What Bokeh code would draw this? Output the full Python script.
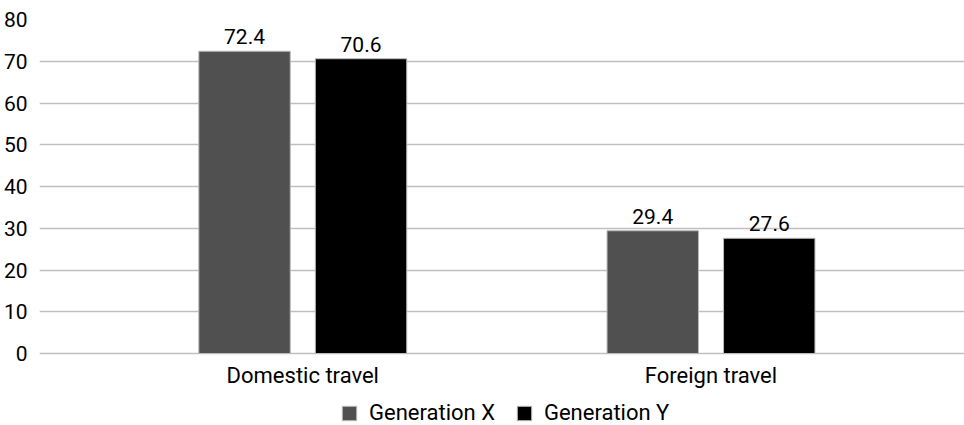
from bokeh.plotting import figure
from bokeh.models import ColumnDataSource, Legend, LegendItem, FixedTicker, Range1d, LabelSet
from bokeh.core.properties import value
from bokeh.embed import file_html
from bokeh.resources import INLINE

categories = ["Domestic travel", "Foreign travel"]
series_names = ["Generation X", "Generation Y"]
gen_x = [72.4, 29.4]
gen_y = [70.6, 27.6]
y_ticks = [0, 10, 20, 30, 40, 50, 60, 70, 80]

colors = ["#505050", "#000000"]
FONT = "Roboto"

p = figure(width=964, height=425, output_backend="svg", toolbar_location=None,
           x_range=Range1d(-0.645, 1.621), y_range=Range1d(-17.245, 80),
           min_border_left=35, min_border_right=0, min_border_top=19, min_border_bottom=0)
p.outline_line_color = None

idx = list(range(len(categories)))
offset = 0.1427
bw = 0.224
renderers = []
for vals, name, col, off in [(gen_x, series_names[0], colors[0], -offset), (gen_y, series_names[1], colors[1], offset)]:
    src = ColumnDataSource(dict(x=[i + off for i in idx], top=vals, lab=[f"{v:.1f}" for v in vals]))
    r = p.vbar(x="x", top="top", width=bw, source=src, fill_color=col, line_color="#bbbbbb", line_width=1)
    renderers.append((name, r))
    p.add_layout(LabelSet(x="x", y="top", text="lab", source=src, text_align="center",
                          text_baseline="bottom", y_offset=7, text_font=value(FONT),
                          text_font_size=value("21px"), text_color="#000000"))

# category labels under the zero line
cat_src = ColumnDataSource(dict(x=idx, y=[0] * len(idx), text=categories))
p.add_layout(LabelSet(x="x", y="y", text="text", source=cat_src, text_align="center",
                      text_baseline="top", y_offset=-9, text_font=value(FONT),
                      text_font_size=value("22px"), text_color="#000000"))

p.yaxis.ticker = FixedTicker(ticks=y_ticks)
p.yaxis.axis_line_color = None
p.yaxis.major_tick_line_color = None
p.yaxis.minor_tick_line_color = None
p.yaxis.major_label_text_font = FONT
p.yaxis.major_label_text_font_size = "21px"
p.yaxis.major_label_text_color = "#000000"
p.yaxis.major_label_standoff = 6

p.xaxis.visible = False

p.xgrid.grid_line_color = None
p.ygrid.ticker = FixedTicker(ticks=y_ticks)
p.ygrid.grid_line_color = "#bfbfbf"
p.ygrid.grid_line_width = 1.5

legend = Legend(items=[LegendItem(label=n, renderers=[r]) for n, r in renderers],
                orientation="horizontal", location=(301, 0),
                label_text_font=FONT, label_text_font_size="22px", label_text_color="#000000",
                glyph_width=18, glyph_height=18, spacing=20, border_line_color=None,
                background_fill_alpha=0, padding=0, margin=0, label_standoff=11)
p.add_layout(legend, "center")

open("out.html", "w").write(file_html(p, INLINE))
